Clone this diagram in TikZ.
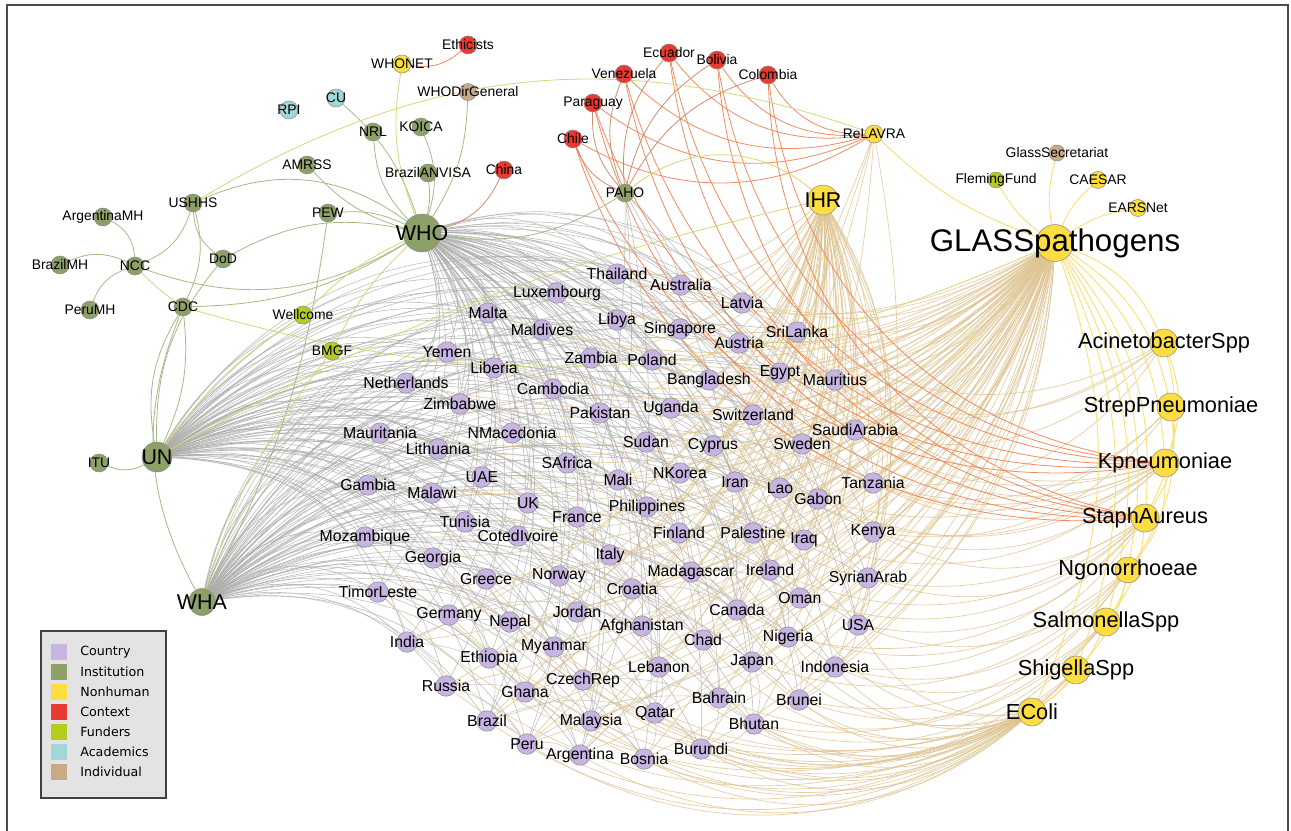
\documentclass[tikz,border=0pt]{standalone}
\usepackage{fontspec}
\setmainfont{Liberation Sans}
\newfontfamily\legfont{DejaVu Sans}
\pgfdeclarelayer{bgl}
\pgfdeclarelayer{edges}
\pgfsetlayers{bgl,edges,main}
\definecolor{cCountry}{RGB}{199,180,226}
\definecolor{cInst}{RGB}{141,160,104}
\definecolor{cNonh}{RGB}{253,221,66}
\definecolor{cCtx}{RGB}{232,58,48}
\definecolor{cFund}{RGB}{181,204,30}
\definecolor{cAcad}{RGB}{160,215,215}
\definecolor{cIndiv}{RGB}{200,170,135}
\definecolor{eGrayC}{RGB}{172,172,170}
\definecolor{eCCC}{RGB}{190,188,194}
\definecolor{eTanC}{RGB}{222,196,146}
\definecolor{eOrC}{RGB}{238,128,78}
\definecolor{eBrC}{RGB}{200,128,100}
\definecolor{eGrC}{RGB}{165,185,135}
\definecolor{eYGC}{RGB}{214,214,120}
\definecolor{eYC}{RGB}{250,224,110}
\tikzset{
 nd/.style={circle,draw=black!45,line width=0.3pt,inner sep=0pt},
 country/.style={nd,fill=cCountry,minimum size=0.41cm},
 inst/.style={nd,fill=cInst,minimum size=0.36cm},
 nonh/.style={nd,fill=cNonh,minimum size=0.36cm},
 ctx/.style={nd,fill=cCtx,minimum size=0.36cm},
 fund/.style={nd,fill=cFund,minimum size=0.36cm},
 acad/.style={nd,fill=cAcad,minimum size=0.36cm},
 indiv/.style={nd,fill=cIndiv,minimum size=0.34cm},
 pathog/.style={nd,fill=cNonh,minimum size=0.56cm},
 lbl/.style={inner sep=0pt,font=\fontsize{9}{9}\selectfont},
 slbl/.style={inner sep=0pt,font=\fontsize{7.9}{8}\selectfont},
 blbl/.style={inner sep=0pt,font=\fontsize{12.2}{12}\selectfont},
 plbl/.style={inner sep=0pt,font=\fontsize{12.4}{12}\selectfont},
 eGray/.style={draw=eGrayC,line width=0.35pt,opacity=0.75},
 eCC/.style={draw=eCCC,line width=0.35pt,opacity=0.8},
 eTan/.style={draw=eTanC,line width=0.4pt,opacity=0.8},
 eOr/.style={draw=eOrC,line width=0.45pt,opacity=0.9},
 eBr/.style={draw=eBrC,line width=0.45pt,opacity=0.9},
 eGr/.style={draw=eGrC,line width=0.45pt},
 eYG/.style={draw=eYGC,line width=0.45pt},
 eY/.style={draw=eYC,line width=0.5pt},
 legtxt/.style={anchor=west,inner sep=0pt,font=\legfont\fontsize{7.2}{8}\selectfont},
}
\def\countrydata{Thailand/617/274, Australia/681/285, Luxembourg/557/293, Latvia/742/303, Malta/488/313, Libya/617/320, Singapore/680/329, SriLanka/797/332, Maldives/542/330, Austria/739/343, Yemen/447/352, Zambia/591/358, Poland/652/360, Liberia/494/368, Egypt/780/373, Mauritius/835/380, Bangladesh/709/380, Netherlands/406/383, Cambodia/553/389, Zimbabwe/460/404, Pakistan/600/413, Uganda/671/408, Switzerland/753/415, SaudiArabia/855/430, Mauritania/380/433, NMacedonia/512/433, Lithuania/438/449, Sudan/646/442, Cyprus/713/446, Sweden/802/444, SAfrica/567/463, Tanzania/873/483, UAE/482/477, Gambia/368/485, Mali/618/480, NKorea/680/473, Iran/735/482, Lao/780/488, Gabon/818/499, Malawi/432/493, UK/528/503, Philippines/647/507, France/577/517, Tunisia/465/522, Kenya/873/532, Finland/679/533, Palestine/753/533, Iraq/804/540, CotedIvoire/518/536, Mozambique/365/537, Georgia/433/558, Italy/610/555, Madagascar/691/572, Ireland/770/570, SyrianArab/868/578, Greece/486/579, Norway/559/576, Croatia/632/589, TimorLeste/378/592, Oman/800/598, Germany/449/615, Nepal/510/622, Jordan/577/612, Canada/737/610, Afghanistan/642/626, USA/858/625, Chad/703/640, Nigeria/788/637, India/407/642, Myanmar/554/647, Ethiopia/489/658, Lebanon/659/667, Japan/752/662, Indonesia/835/667, CzechRep/583/680, Russia/446/686, Ghana/525/692, Bahrain/719/698, Brunei/799/700, Qatar/655/713, Brazil/487/721, Malaysia/591/721, Bhutan/754/724, Peru/527/744, Argentina/580/755, Burundi/701/749, Bosnia/644/759}
\def\ccpairs{Thailand/Luxembourg, Thailand/Singapore, Australia/Latvia, Australia/Libya, Luxembourg/Malta, Malta/Yemen, Maldives/Zambia, Libya/Poland, Singapore/Austria, SriLanka/Egypt, Austria/Bangladesh, Yemen/Liberia, Liberia/Cambodia, Netherlands/Zimbabwe, Zambia/Pakistan, Poland/Uganda, Egypt/Mauritius, Bangladesh/Switzerland, Mauritius/SaudiArabia, Cambodia/NMacedonia, Zimbabwe/Lithuania, Pakistan/Sudan, Uganda/Cyprus, Switzerland/Sweden, SaudiArabia/Tanzania, Mauritania/Gambia, NMacedonia/SAfrica, Lithuania/UAE, Sudan/Mali, Cyprus/NKorea, Sweden/Lao, Tanzania/Kenya, Gambia/Malawi, UAE/UK, SAfrica/France, Mali/Philippines, NKorea/Iran, Iran/Gabon, Lao/Iraq, Malawi/Tunisia, UK/CotedIvoire, France/Italy, Philippines/Finland, Finland/Palestine, Palestine/Ireland, Iraq/Oman, Kenya/SyrianArab, Mozambique/Georgia, Georgia/Greece, Tunisia/Norway, CotedIvoire/Croatia, Italy/Madagascar, Madagascar/Canada, Ireland/Nigeria, SyrianArab/USA, Greece/Germany, Norway/Jordan, Croatia/Afghanistan, TimorLeste/India, Oman/Chad, Germany/Nepal, Nepal/Myanmar, Jordan/CzechRep, Canada/Japan, Afghanistan/Lebanon, USA/Indonesia, Chad/Bahrain, Nigeria/Brunei, India/Russia, Myanmar/Ghana, Ethiopia/Brazil, Lebanon/Qatar, Japan/Bhutan, Indonesia/Brunei, CzechRep/Malaysia, Russia/Peru, Ghana/Argentina, Bahrain/Burundi, Qatar/Bosnia, Brazil/Peru, Malaysia/Bosnia, Bhutan/Burundi, Peru/Argentina, India/Ghana, Ethiopia/Jordan, Germany/Afghanistan, Russia/Malaysia, Brazil/Qatar, Peru/Bahrain, Argentina/Japan, TimorLeste/Nepal, Mozambique/Tunisia, India/Nepal, Georgia/Ethiopia, Norway/Chad, Italy/Lebanon, Greece/Myanmar, CzechRep/Bhutan, Croatia/Canada, Finland/Iraq, Madagascar/Oman, France/Jordan, UK/Greece, Mali/Italy, Iran/Canada, Sudan/Finland, NKorea/Palestine, Malawi/Germany, Gambia/Georgia, Mauritania/TimorLeste, Yemen/Zimbabwe, Malta/Cambodia, Libya/Pakistan, Latvia/Egypt, Zambia/Sudan, Liberia/UAE, Uganda/Iran, SAfrica/Philippines, Tunisia/CotedIvoire, Gabon/Iraq, Switzerland/Lao}
\def\ihrlist{Latvia, SriLanka, Austria, Egypt, Mauritius, Bangladesh, Switzerland, SaudiArabia, Sweden, Cyprus, Tanzania, Iran, Lao, Gabon, Kenya, Iraq, Palestine, Finland, Ireland, SyrianArab, Oman, Canada, Nigeria, USA, Japan, Indonesia, Brunei, Bhutan, Bahrain, Chad, Madagascar, Burundi, Lebanon, Qatar, Afghanistan, Croatia, Italy, Philippines, NKorea, Uganda, Singapore, Australia, Poland, Sudan, Mali, Bosnia, Malaysia, Argentina, Peru, Brazil, Russia, India, Ghana, Ethiopia, Germany, Thailand, Libya, Zambia, Pakistan}
\def\ecolilist{India, Russia, Brazil, Peru, Argentina, Bosnia, Burundi, Malaysia, Ghana, Ethiopia, Qatar, Bahrain, Bhutan, Brunei, Indonesia, USA, Japan, Nigeria, Germany, Nepal, Myanmar, CzechRep, Lebanon, Chad, TimorLeste, Mozambique, Georgia, Greece, Canada, Oman}
\begin{document}
\begin{tikzpicture}[x=0.02cm,y=-0.02cm]
\useasboundingbox (0,0) rectangle (1291,831);
\begin{pgfonlayer}{bgl}
\fill[white] (0,0) rectangle (1291,831);
\end{pgfonlayer}
\draw[black!70,line width=1.1pt] (7,840) -- (7,5) -- (1288,5) -- (1288,840);
% ---------------- nodes ----------------
\foreach \n/\x/\y in \countrydata {\node[country] (\n) at (\x,\y) {};}
\node[inst,minimum size=0.76cm] (WHO) at (422,233) {};
\node[inst,minimum size=0.6cm] (UN) at (157,457) {};
\node[inst,minimum size=0.54cm] (WHA) at (202,602) {};
\node[inst] (ArgentinaMH) at (103,217) {};
\node[inst] (BrazilMH) at (60,265) {};
\node[inst] (NCC) at (135,266) {};
\node[inst] (PeruMH) at (90,310) {};
\node[inst] (USHHS) at (193,203) {};
\node[inst] (DoD) at (223,259) {};
\node[inst] (CDC) at (183,307) {};
\node[inst] (AMRSS) at (307,165) {};
\node[inst] (PEW) at (328,213) {};
\node[inst] (NRL) at (373,132) {};
\node[inst] (KOICA) at (421,127) {};
\node[inst] (BrazilANVISA) at (428,173) {};
\node[inst] (ITU) at (99,463) {};
\node[inst] (PAHO) at (625,193) {};
\node[acad] (RPI) at (289,110) {};
\node[acad] (CU) at (336,98) {};
\node[fund] (Wellcome) at (303,315) {};
\node[fund] (BMGF) at (332,351) {};
\node[fund,minimum size=0.32cm] (FlemingFund) at (996,180) {};
\node[indiv] (WHODirGeneral) at (468,92) {};
\node[indiv,minimum size=0.32cm] (GlassSecretariat) at (1057,153) {};
\node[ctx] (Ethicists) at (468,45) {};
\node[ctx] (China) at (504,170) {};
\node[ctx] (Ecuador) at (669,53) {};
\node[ctx] (Bolivia) at (717,60) {};
\node[ctx] (Venezuela) at (624,74) {};
\node[ctx] (Colombia) at (768,75) {};
\node[ctx] (Paraguay) at (593,103) {};
\node[ctx] (Chile) at (573,139) {};
\node[nonh] (WHONET) at (402,64) {};
\node[nonh,minimum size=0.6cm] (IHR) at (823,200) {};
\node[nonh] (ReLAVRA) at (874,134) {};
\node[nonh,minimum size=0.34cm] (CAESAR) at (1098,180) {};
\node[nonh,minimum size=0.34cm] (EARSNet) at (1138,208) {};
\node[nonh,minimum size=0.74cm] (GLASSpathogens) at (1055,243) {};
\node[pathog] (AcinetobacterSpp) at (1164,343) {};
\node[pathog] (StrepPneumoniae) at (1171,407) {};
\node[pathog] (Kpneumoniae) at (1165,463) {};
\node[pathog] (StaphAureus) at (1145,518) {};
\node[pathog,minimum size=0.52cm] (Ngonorrhoeae) at (1128,570) {};
\node[pathog] (SalmonellaSpp) at (1106,622) {};
\node[pathog] (ShigellaSpp) at (1076,670) {};
\node[pathog] (EColi) at (1032,712) {};
% ---------------- edges ----------------
\begin{pgfonlayer}{edges}
\foreach \n/\x/\y in \countrydata {
  \draw[eGray] (WHO) to[bend left=30] (\n);
  \draw[eGray] (UN) to[bend left=36] (\n);
  \draw[eGray] (WHA) to[bend left=32] (\n);
}
\foreach \a/\b in \ccpairs {\draw[eCC] (\a) to[bend left=18] (\b);}
\foreach \n/\x/\y in \countrydata {\draw[eTan] (GLASSpathogens) to[bend left=24] (\n);}
\foreach \n in \ihrlist {\draw[eTan] (IHR) to[bend left=22] (\n);}
\foreach \n in \ecolilist {\draw[eTan] (EColi) to[bend left=34] (\n);}
\foreach \n in {Egypt, Mauritius, SaudiArabia, Tanzania, Sweden, Gabon, Kenya, Iraq, Lao, Switzerland} {\draw[eTan] (Kpneumoniae) to[bend left=30] (\n);}
\foreach \n in {Kenya, SyrianArab, USA, Indonesia, Oman, Nigeria, Ireland, Palestine} {\draw[eTan] (StaphAureus) to[bend left=30] (\n);}
\foreach \n in {SriLanka, Mauritius, SaudiArabia, Tanzania, Egypt} {\draw[eTan] (AcinetobacterSpp) to[bend left=30] (\n);}
\foreach \n in {USA, Indonesia, Brunei, Bhutan, Japan, Canada} {\draw[eTan] (Ngonorrhoeae) to[bend left=32] (\n);}
\foreach \n in {Brunei, Bhutan, Burundi, Indonesia, Bahrain} {\draw[eTan] (SalmonellaSpp) to[bend left=32] (\n);}
\foreach \n in {Bosnia, Burundi, Qatar, Bhutan} {\draw[eTan] (ShigellaSpp) to[bend left=34] (\n);}
\foreach \n in {Tanzania, Kenya, Gabon} {\draw[eTan] (StrepPneumoniae) to[bend left=30] (\n);}
\foreach \n in {Argentina, Brazil, Peru, USA, Canada} {\draw[eTan] (ReLAVRA) to[bend left=12] (\n);}
\foreach \n in {Argentina, Brazil, Peru, Canada, USA, Australia} {\draw[eGray] (PAHO) to[bend left=15] (\n);}
% context edges
\foreach \n in {Chile, Paraguay, Venezuela, Ecuador, Bolivia, Colombia} {
  \draw[eOr] (Kpneumoniae) to[bend left=38] (\n);
  \draw[eOr] (StaphAureus) to[bend left=38] (\n);
  \draw[eOr] (ReLAVRA) to[bend left=30] (\n);
  \draw[eBr] (PAHO) to[bend left=22] (\n);
}
\draw[eOr] (Ethicists) to[bend left=25] (WHONET);
\draw[eBr] (China) to[bend left=25] (WHO);
% institutions
\draw[eGr] (ArgentinaMH) to[bend left=30] (NCC);
\draw[eGr] (BrazilMH) to[bend left=25] (NCC);
\draw[eGr] (PeruMH) to[bend left=25] (NCC);
\draw[eGr] (USHHS) to[bend left=25] (NCC);
\draw[eGr] (WHO) to[bend left=25] (NCC);
\draw[eYG] (NCC) to[bend right=5] (CDC);
\draw[eGr] (USHHS) to[bend right=25] (DoD);
\draw[eGr] (USHHS) to[bend left=20] (CDC);
\draw[eGr] (USHHS) to[bend left=30] (WHO);
\draw[eGr] (DoD) to[bend left=20] (WHO);
\draw[eGr] (CDC) to[bend right=15] (WHO);
\draw[eGr] (DoD) to[bend right=20] (UN);
\draw[eGr] (CDC) to[bend left=15] (UN);
\draw[eGr] (CDC) to[bend right=20] (UN);
\draw[eGr] (CDC) to[bend right=25] (WHA);
\draw[eGr] (AMRSS) to[bend right=15] (WHO);
\draw[eGr] (PEW) to[bend left=15] (WHO);
\draw[eGr] (PEW) to[bend left=10] (WHA);
\draw[eGr] (NRL) to[bend right=20] (WHO);
\draw[eGr] (CU) to[bend left=15] (WHO);
\draw[eGr] (KOICA) to[bend left=20] (WHO);
\draw[eGr] (BrazilANVISA) to[bend left=10] (WHO);
\draw[eGr] (WHODirGeneral) to[bend left=15] (WHO);
\draw[eYG] (WHONET) to[bend right=15] (WHO);
\draw[eYG] (Wellcome) to[bend left=10] (WHO);
\draw[eYG] (BMGF) to[bend left=10] (WHO);
\draw[eYG] (Wellcome) to[bend right=10] (UN);
\draw[eYG] (BMGF) to[bend right=10] (WHA);
\draw[eGr] (ITU) to[bend right=25] (UN);
\draw[eGr] (PAHO) to[bend left=20] (WHO);
\draw[eYG] (PAHO) to[bend left=40] (IHR);
\draw[eYG] (USHHS) to[bend left=25] (ReLAVRA);
\draw[eYG] (CDC) to[bend right=20] (GLASSpathogens);
\draw[eYG] (UN) to[bend left=8] (IHR);
% nonhuman
\foreach \n in {ReLAVRA, FlemingFund, GlassSecretariat, CAESAR, EARSNet} {\draw[eY] (GLASSpathogens) to[bend left=12] (\n);}
\foreach \n in {AcinetobacterSpp, StrepPneumoniae, Kpneumoniae, StaphAureus, Ngonorrhoeae, SalmonellaSpp, ShigellaSpp, EColi} {\draw[eY] (GLASSpathogens) to[bend left=22] (\n);}
\draw[eY] (AcinetobacterSpp) to[bend left=20] (Kpneumoniae);
\draw[eY] (AcinetobacterSpp) to[bend left=20] (StaphAureus);
\draw[eY] (StrepPneumoniae) to[bend left=20] (StaphAureus);
\draw[eY] (StrepPneumoniae) to[bend left=20] (Ngonorrhoeae);
\draw[eY] (Kpneumoniae) to[bend left=20] (Ngonorrhoeae);
\draw[eY] (StaphAureus) to[bend left=15] (SalmonellaSpp);
\draw[eY] (Ngonorrhoeae) to[bend left=15] (ShigellaSpp);
\draw[eY] (SalmonellaSpp) to[bend left=15] (EColi);
\draw[eY] (Ngonorrhoeae) to[bend left=10] (SalmonellaSpp);
\draw[eY] (ShigellaSpp) to[bend left=10] (EColi);
\end{pgfonlayer}
% ---------------- labels ----------------
\foreach \n/\x/\y in \countrydata {\node[lbl] at (\n) {\n};}
\foreach \n in {ArgentinaMH, BrazilMH, NCC, PeruMH, USHHS, DoD, CDC, AMRSS, PEW, NRL, KOICA, BrazilANVISA, ITU, PAHO, RPI, CU, Wellcome, BMGF, FlemingFund, WHODirGeneral, GlassSecretariat, Ethicists, China, Ecuador, Bolivia, Venezuela, Colombia, Paraguay, Chile, WHONET, ReLAVRA, CAESAR, EARSNet} {\node[slbl] at (\n) {\n};}
\node[blbl] at (WHO) {WHO};
\node[blbl] at (UN) {UN};
\node[blbl] at (WHA) {WHA};
\node[blbl] at (IHR) {IHR};
\node[inner sep=0pt,font=\fontsize{17.8}{18}\selectfont] at (GLASSpathogens) {GLASSpathogens};
\foreach \n in {AcinetobacterSpp, StrepPneumoniae, Kpneumoniae, StaphAureus, Ngonorrhoeae, SalmonellaSpp, ShigellaSpp, EColi} {\node[plbl] at (\n) {\n};}
% ---------------- legend ----------------
\fill[black!11] (41,631) rectangle (166,798);
\draw[black!75,line width=0.6pt] (41,631) rectangle (166,798);
\foreach \c/\t/\y in {cCountry/Country/652, cInst/Institution/672, cNonh/Nonhuman/692, cCtx/Context/712, cFund/Funders/732, cAcad/Academics/752, cIndiv/Individual/772} {
  \fill[\c] (51,\y-8) rectangle (67,\y+8);
  \node[legtxt] at (80,\y) {\t};
}
\end{tikzpicture}
\end{document}
